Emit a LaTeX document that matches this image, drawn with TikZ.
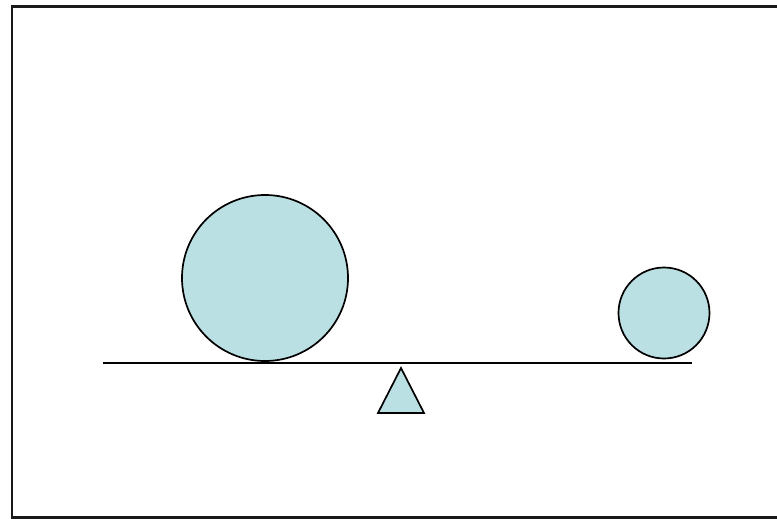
\documentclass[tikz,border=0pt]{standalone}
\definecolor{ppfill}{RGB}{187,224,227}
\begin{document}
\begin{tikzpicture}[x=1pt,y=-1pt,
  shape body/.style={draw=black,fill=ppfill,line width=1.7pt},
  frame line/.style={draw=black!90,line width=2.4pt},
  beam line/.style={draw=black,line width=2.1pt}]
\useasboundingbox (0,0) rectangle (777,519);
\fill[white] (0,0) rectangle (777,519);
% frame (right edge lies outside the picture)
\draw[frame line] (790,6.5) -- (12,6.5) -- (12,517.5) -- (790,517.5);
% beam
\coordinate (bl) at (102.5,363.3);
\coordinate (br) at (691.7,363.3);
\draw[beam line] (bl) -- (br);
% big circle
\node[shape body,circle,minimum size=166pt,inner sep=0pt] (big) at (265,278) {};
% small circle
\node[shape body,circle,minimum size=91pt,inner sep=0pt] (small) at (664,313) {};
% fulcrum
\coordinate (apex) at (401,368);
\coordinate (left) at (378,413);
\coordinate (right) at (424,413);
\draw[shape body,line join=miter] (apex) -- (left) -- (right) -- cycle;
\end{tikzpicture}
\end{document}
